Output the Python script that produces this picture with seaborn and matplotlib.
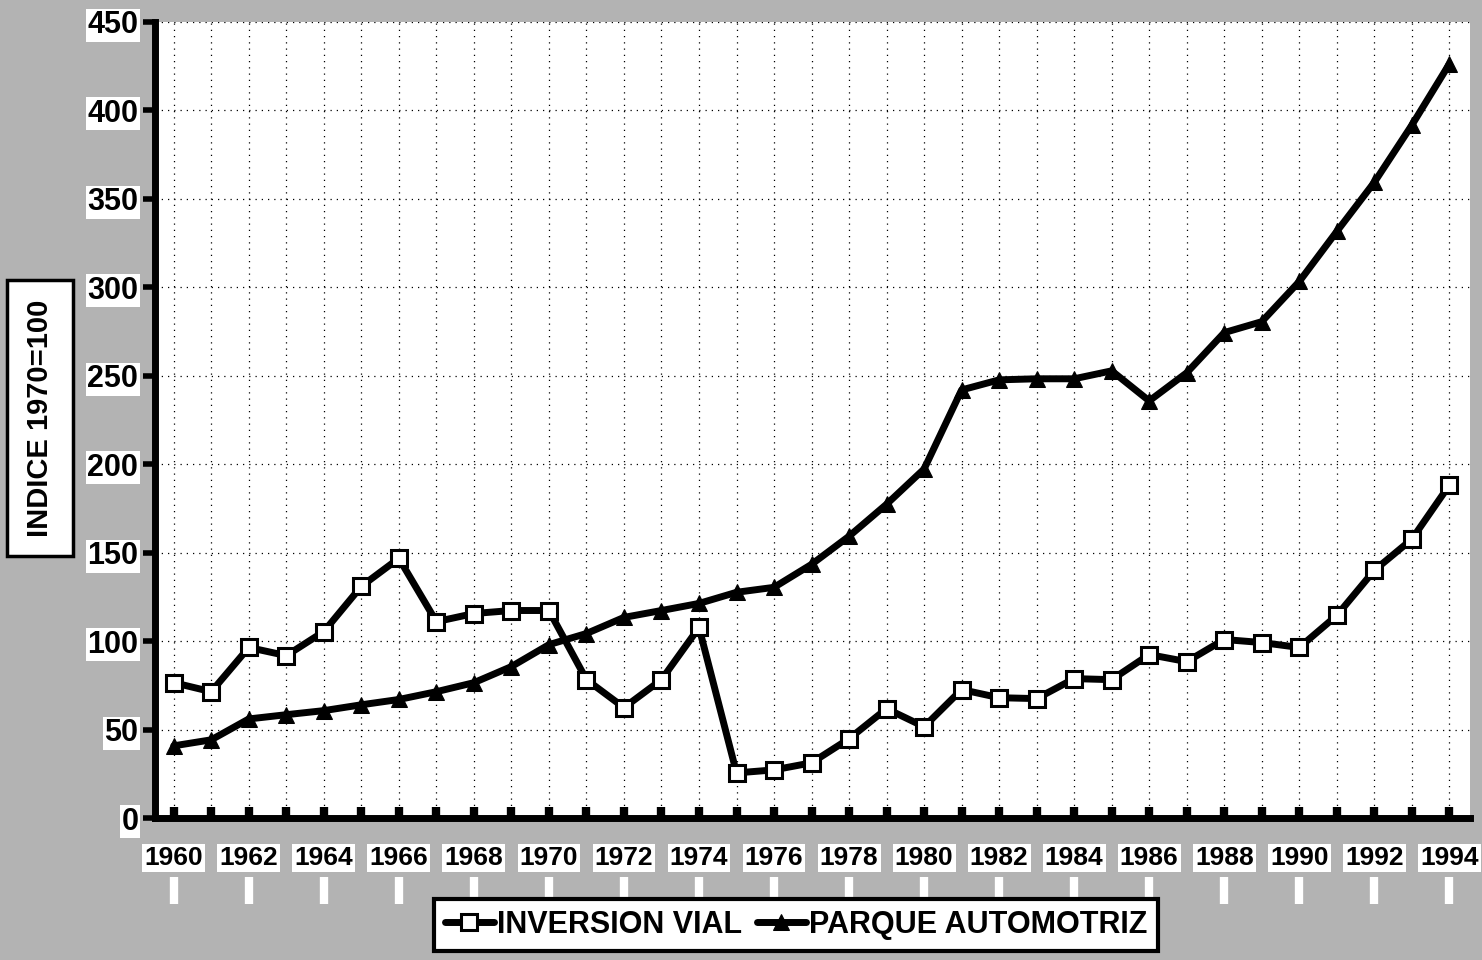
import matplotlib
matplotlib.use("Agg")
import matplotlib.pyplot as plt
import matplotlib.transforms as mtransforms
import seaborn as sns
import pandas as pd

years = list(range(1960, 1995))
inversion_vial = [76.5, 71.4, 96.4, 91.8, 105.4, 131.0, 146.8, 111.0, 115.6, 117.3,
                  117.3, 78.2, 62.4, 78.2, 107.7, 25.5, 27.2, 31.2, 44.8, 61.8,
                  51.6, 72.6, 68.0, 67.5, 78.8, 78.2, 92.4, 88.4, 100.9, 99.2,
                  96.4, 114.5, 140.0, 157.6, 188.2]
parque_automotriz = [40.8, 44.2, 56.0, 58.4, 60.7, 64.0, 67.0, 71.4, 76.5, 85.6,
                     98.0, 104.3, 113.4, 117.3, 121.3, 127.6, 130.4, 143.4, 159.3, 177.4,
                     197.3, 242.0, 247.7, 248.3, 248.3, 252.8, 235.8, 251.7, 274.4, 280.6,
                     303.3, 331.6, 359.4, 391.7, 426.3]
series_names = ["INVERSION VIAL", "PARQUE AUTOMOTRIZ"]
y_ticks = list(range(0, 451, 50))
x_label_years = list(range(1960, 1995, 2))
y_label = "INDICE 1970=100"

sns.set_style("white")
plt.rcParams["font.family"] = ["Liberation Sans", "DejaVu Sans"]
plt.rcParams["font.weight"] = "bold"
plt.rcParams["text.color"] = "black"
plt.rcParams["xtick.color"] = "black"
plt.rcParams["ytick.color"] = "black"
plt.rcParams["xtick.labelcolor"] = "black"
plt.rcParams["ytick.labelcolor"] = "black"

bg = "#b3b3b3"
fig = plt.figure(figsize=(14.82, 9.6), dpi=100, facecolor=bg)
ax = fig.add_axes([155 / 1482, 1 - 818 / 960, (1470 - 155) / 1482, (818 - 22) / 960])
ax.set_facecolor("white")

df = pd.DataFrame({"year": years, "vial": inversion_vial, "parque": parque_automotriz})

sns.lineplot(data=df, x="year", y="vial", ax=ax, color="black", linewidth=5,
             marker="s", markersize=11, markerfacecolor="white", markeredgecolor="black",
             markeredgewidth=2.2, label=series_names[0], zorder=5)
sns.lineplot(data=df, x="year", y="parque", ax=ax, color="black", linewidth=5,
             marker="^", markersize=11, markerfacecolor="black", markeredgecolor="black",
             label=series_names[1], zorder=5)

ax.set_xlim(1959.5, 1994.55)
ax.set_ylim(0, 450)
ax.set_yticks(y_ticks)
ax.set_xticks(x_label_years)
ax.set_xticks(years, minor=True)
ax.set_xlabel("")
ax.set_ylabel("")

# grid
ax.grid(False)
for yv in y_ticks[1:]:
    ax.axhline(yv, color="black", linestyle=(0, (1, 4)), linewidth=0.9, zorder=1)
for xv in years:
    ax.axvline(xv, color="black", linestyle=(0, (1, 4)), linewidth=0.9, zorder=1)

for side in ["top", "right"]:
    ax.spines[side].set_visible(False)
for side in ["left", "bottom"]:
    ax.spines[side].set_linewidth(5)
    ax.spines[side].set_color("black")

ax.tick_params(axis="y", which="major", left=True, direction="out", length=9, width=4,
               labelsize=22, pad=3, color="black", labelcolor="black")
ax.tick_params(axis="x", which="both", bottom=True, direction="in", length=8, width=6,
               color="black", labelcolor="black")
ax.tick_params(axis="x", which="major", labelsize=19, pad=20)

for lab in ax.get_yticklabels():
    lab.set_fontweight("bold")
    lab.set_bbox(dict(facecolor="white", edgecolor="none", pad=1.2))
for lab in ax.get_xticklabels():
    lab.set_fontweight("bold")
    lab.set_bbox(dict(facecolor="white", edgecolor="none", pad=1.5))

# white bars beneath the year labels
trans = mtransforms.blended_transform_factory(ax.transData, fig.transFigure)
for xv in x_label_years:
    ax.plot([xv, xv], [1 - 877 / 960, 1 - 904 / 960], color="white", linewidth=6,
            transform=trans, clip_on=False, solid_capstyle="butt")

# y label in a box
fig.text(40 / 1482, 1 - 418 / 960, y_label, rotation=90, ha="center", va="center",
         fontsize=21, fontweight="bold", color="black",
         bbox=dict(boxstyle="square,pad=0.65", facecolor="white", edgecolor="black",
                   linewidth=2.5))

# legend
handles, labels = ax.get_legend_handles_labels()
leg = ax.legend(handles, labels, loc="center", bbox_to_anchor=(796 / 1482, 1 - 925 / 960),
                bbox_transform=fig.transFigure, ncol=2, frameon=True, fancybox=False,
                edgecolor="black", framealpha=1, fontsize=22, handlelength=1.6,
                handletextpad=0.1, columnspacing=0.5, borderpad=0.35)
leg.get_frame().set_linewidth(3)
for t in leg.get_texts():
    t.set_fontweight("bold")
    t.set_color("black")

fig.savefig("out.png", dpi=100, facecolor=bg)
